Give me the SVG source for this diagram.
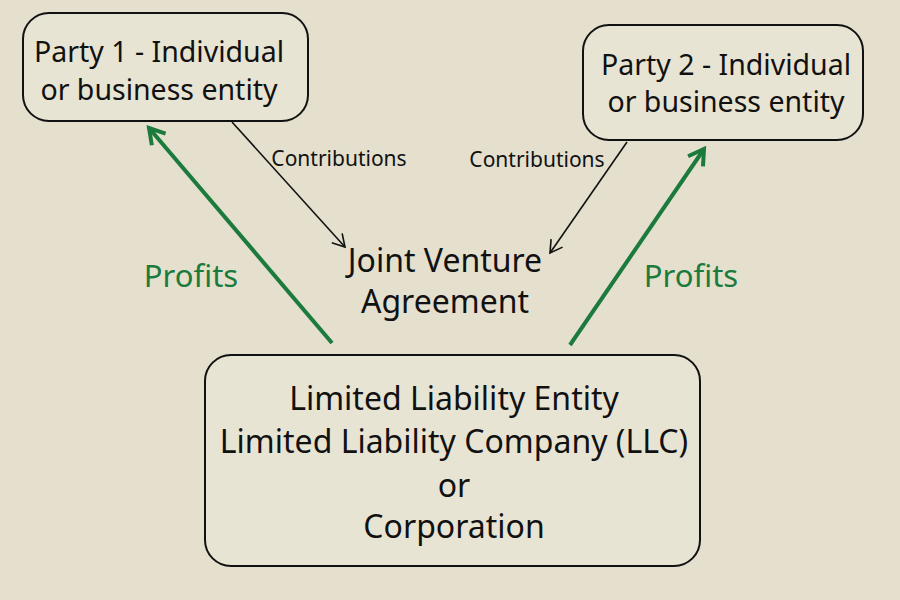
<svg xmlns="http://www.w3.org/2000/svg" width="900" height="600" viewBox="0 0 900 600">
<defs>
<style>
.box{fill:#e8e4d3;stroke:#111;stroke-width:2}
.t{font-family:"Noto Sans","Open Sans",sans-serif;fill:#111;text-anchor:middle}
.big{font-size:28.5px}
.mid{font-size:32px}
.small{font-size:21px}
.g{fill:#1b7a3c;font-size:31px;font-family:"Noto Sans","Open Sans",sans-serif;text-anchor:middle}
.blk{stroke:#111;stroke-width:1.6;fill:none}
.grn{stroke:#1b7a3c;stroke-width:4;fill:none}
</style>
<marker id="ab" markerWidth="16" markerHeight="16" refX="14" refY="8" orient="auto" markerUnits="userSpaceOnUse">
<path d="M2,1 L14,8 L2,15" fill="none" stroke="#111" stroke-width="1.6"/>
</marker>
<marker id="ag" markerWidth="24" markerHeight="24" refX="20" refY="12" orient="auto" markerUnits="userSpaceOnUse">
<path d="M5,3 L20,12 L5,21" fill="none" stroke="#1b7a3c" stroke-width="4"/>
</marker>
</defs>
<rect width="900" height="600" fill="#e4e0cd"/>
<g id="connectors">
<line class="blk" x1="232" y1="122" x2="345" y2="247" marker-end="url(#ab)"/>
<line class="blk" x1="627" y1="142" x2="550" y2="253" marker-end="url(#ab)"/>
<line class="grn" x1="332" y1="343" x2="149" y2="128" marker-end="url(#ag)"/>
<line class="grn" x1="570" y1="345" x2="704" y2="149" marker-end="url(#ag)"/>
<text class="t small" x="339" y="166">Contributions</text>
<text class="t small" x="537" y="167">Contributions</text>
<text class="g" x="191" y="287">Profits</text>
<text class="g" x="691" y="287">Profits</text>
</g>
<g id="party1">
<rect class="box" x="23" y="13" width="285" height="108" rx="26"/>
<text class="t big" x="159" y="62">Party 1 - Individual</text>
<text class="t big" x="159" y="100">or business entity</text>
</g>
<g id="party2">
<rect class="box" x="583" y="25" width="280" height="115" rx="26"/>
<text class="t big" x="726" y="75">Party 2 - Individual</text>
<text class="t big" x="726" y="112">or business entity</text>
</g>
<g id="jva">
<text class="t mid" x="445" y="272">Joint Venture</text>
<text class="t mid" x="445" y="313">Agreement</text>
</g>
<g id="entity">
<rect class="box" x="205" y="355" width="495" height="211" rx="26"/>
<text class="t mid" x="454" y="410">Limited Liability Entity</text>
<text class="t mid" x="454" y="453">Limited Liability Company (LLC)</text>
<text class="t mid" x="454" y="497">or</text>
<text class="t mid" x="454" y="538">Corporation</text>
</g>
</svg>
